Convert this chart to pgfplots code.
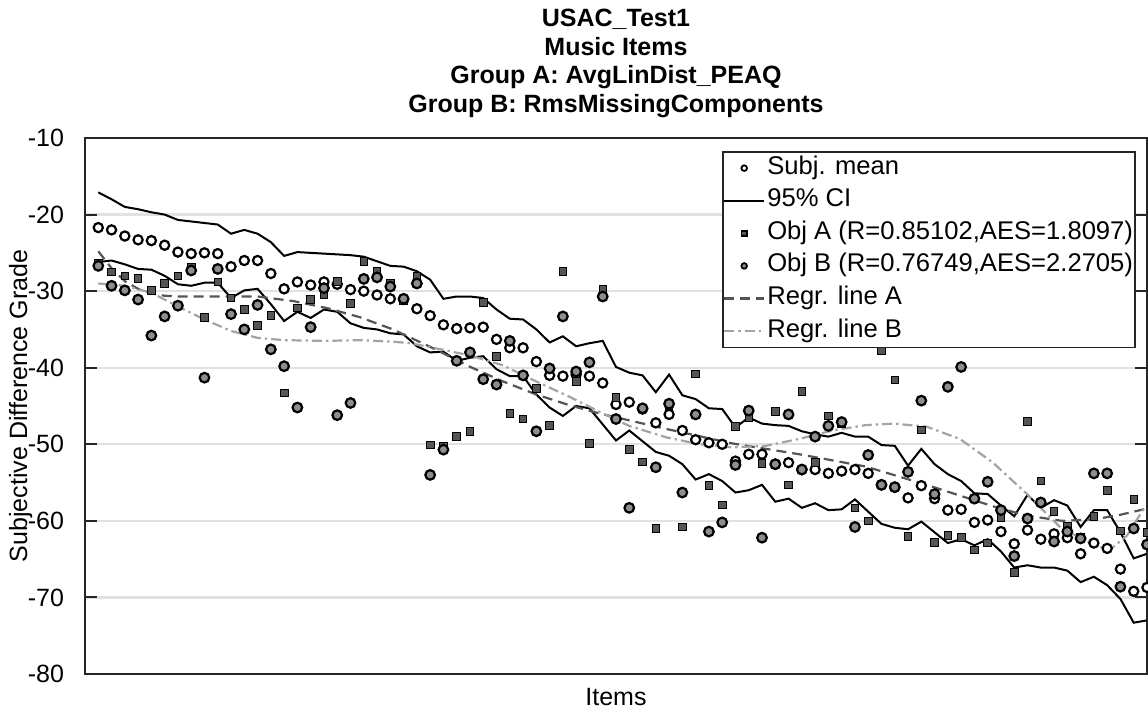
\documentclass[border=0pt]{standalone}
\usepackage{pgfplots}
\usepackage{pgfplotstable}
\pgfplotsset{compat=1.18}
\usepackage{fontspec}
\setmainfont{Liberation Sans}
\definecolor{axgray}{HTML}{262626}
\definecolor{gridgray}{HTML}{E1E1E1}
\definecolor{objA}{HTML}{555555}
\definecolor{objB}{HTML}{8E8E8E}
\definecolor{regA}{HTML}{555555}
\definecolor{regB}{HTML}{A3A3A3}

\pgfplotstableread{
i subj ciup cilo objA objB
1 -21.7 -17.1 -26.2 -26.3 -26.7
2 -22.0 -18.0 -26.0 -27.5 -29.3
3 -22.8 -19.0 -26.5 -28.0 -29.9
4 -23.3 -19.3 -27.1 -28.3 -31.1
5 -23.4 -19.7 -27.2 -29.9 -35.8
6 -24.0 -20.0 -28.0 -29.0 -33.3
7 -24.9 -20.7 -29.1 -28.0 -31.9
8 -25.1 -20.9 -29.3 -26.9 -27.3
9 -25.0 -21.1 -28.9 -33.4 -41.3
10 -25.1 -21.3 -28.9 -28.8 -27.1
11 -26.8 -22.5 -30.9 -30.9 -33.0
12 -26.0 -22.0 -29.9 -32.4 -35.0
13 -26.0 -22.5 -29.7 -34.5 -31.8
14 -27.7 -23.6 -31.7 -33.2 -37.6
15 -29.7 -25.4 -33.9 -43.3 -39.8
16 -28.8 -24.9 -32.7 -32.2 -45.2
17 -29.2 -25.0 -33.5 -31.1 -34.7
18 -28.8 -25.1 -32.4 -30.4 -29.6
19 -29.1 -25.2 -32.7 -28.7 -46.2
20 -29.8 -25.3 -34.2 -31.6 -44.6
21 -30.0 -25.5 -34.8 -26.1 -28.4
22 -30.5 -26.1 -35.0 -27.4 -28.2
23 -31.0 -26.7 -35.5 -28.9 -29.4
24 -31.1 -26.8 -35.65 -31.2 -31.0
25 -32.3 -27.4 -37.2 -28.0 -29.0
26 -33.2 -28.5 -38.0 -50.1 -54.0
27 -34.4 -31.0 -37.9 -50.2 -50.7
28 -34.9 -30.7 -39.1 -49.0 -39.1
29 -34.8 -30.7 -38.7 -48.3 -38.0
30 -34.7 -30.9 -38.5 -31.5 -41.5
31 -36.3 -32.4 -40.2 -38.5 -42.2
32 -37.4 -33.6 -41.1 -46.0 -36.5
33 -37.4 -33.7 -41.1 -46.7 -41.0
34 -39.2 -35.0 -43.5 -42.7 -48.3
35 -41.0 -36.7 -45.2 -47.5 -40.1
36 -41.1 -35.9 -46.3 -27.4 -33.3
37 -40.9 -37.2 -45.0 -41.8 -40.5
38 -41.1 -36.8 -45.3 -49.9 -39.3
39 -42.0 -36.5 -47.4 -29.7 -30.7
40 -44.8 -39.9 -49.5 -43.9 -46.7
41 -44.5 -40.65 -48.2 -50.7 -58.3
42 -45.4 -41.0 -49.6 -52.3 -45.3
43 -47.2 -43.2 -51.0 -61.0 -53.0
44 -46.1 -40.9 -51.5 -45.0 -44.7
45 -48.2 -43.6 -52.6 -60.8 -56.3
46 -49.4 -44.1 -54.6 -40.8 -46.1
47 -49.8 -45.3 -53.9 -55.4 -61.4
48 -50.0 -45.4 -54.8 -57.9 -60.2
49 -52.2 -47.8 -56.3 -47.7 -52.7
50 -51.3 -46.5 -56.0 -46.5 -45.6
51 -51.3 -47.3 -55.3 -52.5 -62.2
52 -52.6 -47.5 -57.5 -45.7 -52.6
53 -52.4 -47.6 -57.1 -55.3 -46.1
54 -53.3 -48.3 -58.3 -43.1 -53.3
55 -53.3 -48.7 -57.7 -52.4 -49.0
56 -53.8 -49.0 -58.6 -46.3 -47.6
57 -53.5 -48.5 -58.5 -47.3 -47.1
58 -53.3 -49.0 -57.2 -58.3 -60.8
59 -53.8 -49.0 -58.8 -60.0 -51.4
60 -55.3 -50.1 -60.4 -37.8 -55.3
61 -55.6 -50.2 -60.9 -41.6 -55.6
62 -57.0 -52.8 -61.1 -62.0 -53.6
63 -55.4 -50.6 -60.1 -48.1 -44.3
64 -57.1 -52.6 -61.5 -62.8 -56.5
65 -58.6 -53.9 -62.9 -61.9 -42.5
66 -58.5 -54.8 -62.4 -62.2 -39.9
67 -60.2 -56.4 -63.2 -63.8 -57.1
68 -59.9 -56.5 -62.4 -62.9 -54.9
69 -61.4 -58.0 -64.0 -59.6 -58.6
70 -63.0 -59.4 -66.1 -66.7 -64.6
71 -61.2 -56.6 -65.8 -47.0 -59.7
72 -62.4 -58.3 -66.1 -54.8 -57.6
73 -61.7 -57.3 -66.1 -58.8 -62.7
74 -62.2 -58.0 -66.5 -60.7 -61.4
75 -64.3 -60.8 -68.0 -62.2 -62.3
76 -62.9 -58.6 -67.3 -59.4 -53.8
77 -63.6 -58.6 -68.4 -56.0 -53.8
78 -66.3 -61.5 -70.2 -61.3 -68.6
79 -69.2 -64.9 -73.3 -57.2 -61.0
80 -68.7 -64.3 -73.0 -61.5 -63.1
}\data

\pgfplotstableread{
x y
1 -24.8
2 -27.0
3 -28.7
4 -29.7
5 -30.3
6 -30.6
7 -30.7
13 -30.7
15.7 -31.3
18.2 -32.2
20.7 -33.4
23.2 -35.0
26.4 -37.6
28.9 -39.8
31.5 -41.8
34 -43.5
36.5 -44.9
38.8 -46.0
43.8 -48.0
48.8 -49.9
53.8 -51.3
58.8 -52.9
63.4 -55.3
68.4 -58.1
70.9 -59.3
73.6 -60.0
76.1 -59.8
78 -59.2
80 -58.4
}\regA

\pgfplotstableread{
x y
1 -29.0
3 -29.3
5 -30.2
7 -32.0
9 -33.7
11 -35.2
13 -36.1
15 -36.4
18 -36.5
20.7 -36.4
23.2 -36.6
24.5 -36.8
26.8 -37.6
29 -38.4
31.5 -39.7
34 -41.8
36.5 -43.8
38.8 -45.8
41 -47.6
43.8 -49.1
46.3 -50.0
48.8 -50.4
51.3 -50.2
53.8 -49.3
56.3 -48.2
58.8 -47.5
60.9 -47.3
63.4 -47.7
65.9 -49.3
68.4 -52.4
70.9 -56.4
73.5 -60.9
76 -63.1
77.2 -63.8
78.5 -61.9
79.8 -58.3
}\regB

\begin{document}
\begin{tikzpicture}
\path[use as bounding box] (-42.5pt,-20.5pt) rectangle (531.5pt,337pt);
\begin{axis}[
  scale only axis, width=531pt, height=268pt,
  xmin=0, xmax=80, ymin=-80, ymax=-10,
  xtick=\empty, ytick={-80,-70,-60,-50,-40,-30,-20,-10},
  ymajorgrids, major grid style={gridgray, line width=1.2pt},
  axis line style={axgray, line width=1pt},
  tick align=inside, major tick length=6pt,
  every tick/.style={axgray, line width=1pt},
  /pgf/number format/assume math mode=true,
  yticklabel style={font=\fontsize{12.5}{15}\selectfont, text=black, xshift=-7pt},
  every axis title/.style={at={(axis description cs:0.5,1)}, anchor=south, align=center, yshift=9.9pt, inner sep=0pt, font=\bfseries\fontsize{12.5}{14.3}\selectfont},
  title={USAC\_Test1\\Music Items\\Group A: AvgLinDist\_PEAQ\\Group B: RmsMissingComponents},
  every axis x label/.style={at={(axis description cs:0.5,0)}, anchor=base, yshift=-16pt, font=\fontsize{12.5}{15}\selectfont},
  xlabel={Items},
  every axis y label/.style={at={(axis description cs:-0.0546,0.5)}, rotate=90, anchor=base, font=\fontsize{12.5}{15}\selectfont},
  ylabel={Subjective Difference Grade},
  legend style={at={(axis description cs:0.9895,0.9757)}, anchor=north east, draw=axgray, line width=0.8pt, fill=white,
    font=\fontsize{12.8}{15}\selectfont, inner xsep=0pt, inner ysep=0pt, row sep=0pt,
    cells={anchor=west}, nodes={inner xsep=1pt, inner ysep=2.15pt, text height=9pt, text depth=3pt}},
  legend image code/.code={\path[draw=none, fill=none] (0pt,-3pt) rectangle (20pt,3pt); \draw[mark repeat=2,mark phase=2,#1] plot coordinates {(0pt,0pt) (10pt,0pt) (20pt,0pt)};},
]
\addplot[only marks, mark=*, mark size=2.3pt, mark options={draw=black, fill=white, line width=1.1pt}, legend image post style={mark size=1.4pt, mark options={draw=black, fill=white, line width=0.9pt}}]
  table[x=i, y=subj] {\data};
\addlegendentry{Subj. mean}
\addplot[black, line width=1pt, mark=none] table[x=i, y=ciup] {\data};
\addlegendentry{95\% CI}
\addplot[black, line width=1pt, mark=none, forget plot] table[x=i, y=cilo] {\data};
\addplot[only marks, mark=square*, mark size=1.9pt, mark options={draw=none, fill=objA}, legend image post style={mark size=1.3pt, mark options={draw=none, fill=objA}}]
  table[x=i, y=objA] {\data};
\addlegendentry{Obj A (R=0.85102,AES=1.8097)}
\addplot[only marks, mark=*, mark size=2.4pt, mark options={draw=black, fill=objB, line width=1.1pt}, legend image post style={mark size=1.4pt, mark options={draw=black, fill=objB, line width=0.9pt}}]
  table[x=i, y=objB] {\data};
\addlegendentry{Obj B (R=0.76749,AES=2.2705)}
\addplot[regA, line width=1.1pt, mark=none, dash pattern=on 5pt off 3pt] table[x=x, y=y] {\regA};
\addlegendentry{Regr. line A}
\addplot[regB, line width=1.1pt, mark=none, dash pattern=on 5pt off 2pt on 1.2pt off 2pt] table[x=x, y=y] {\regB};
\addlegendentry{Regr. line B}
\end{axis}
\end{tikzpicture}
\end{document}
